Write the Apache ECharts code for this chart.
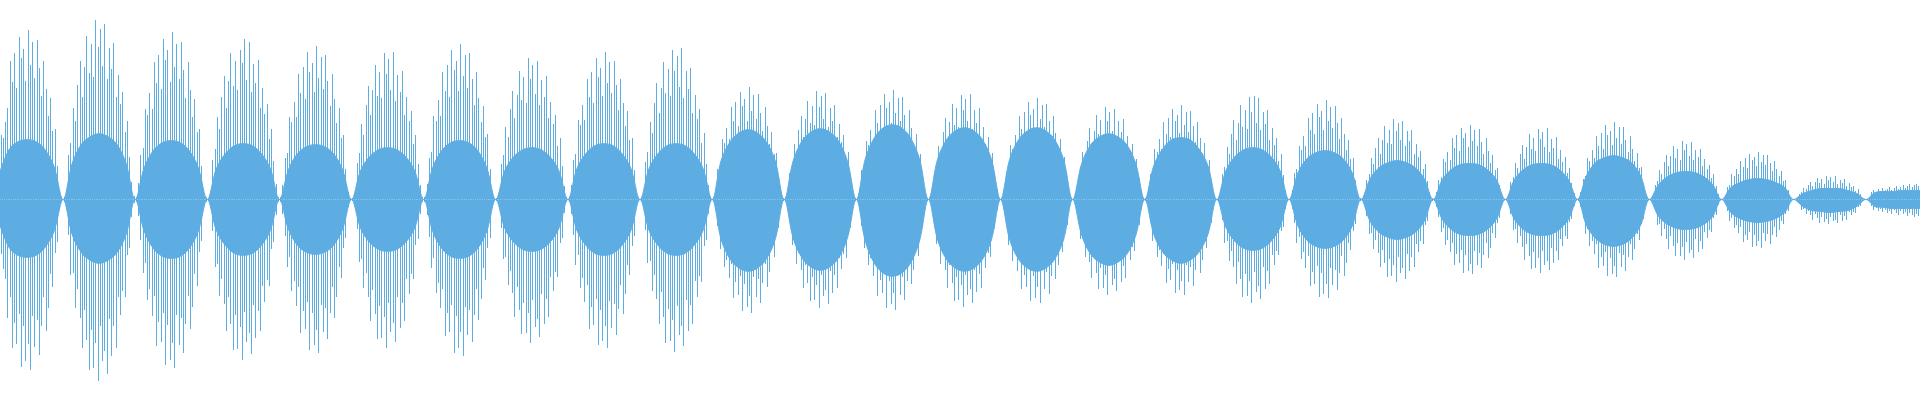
<!DOCTYPE html>
<html>
<head>
<meta charset="utf-8">
<script src="https://cdn.jsdelivr.net/npm/echarts@6/dist/echarts.min.js"></script>
<style>html,body{margin:0;padding:0;background:#fff}#chart{width:1920px;height:400px}</style>
</head>
<body>
<div id="chart"></div>
<script>
// Peak sample heights above the centre line, one inner array per lobe of the wave
const spikeUp = [
 [65,62,78,92,139,118,147,112,163,142,151,119,170,135,158,122,160,132,104,139,111,84,102,69,71,34,9,3],
 [3,9,45,57,92,79,115,139,103,133,164,127,156,123,180,153,171,134,176,121,152,131,157,103,125,96,108,68,79,43,18,4],
 [3,17,45,52,91,85,107,91,138,117,145,111,161,140,150,118,168,133,156,121,158,130,102,138,110,83,101,68,71,34,8,3],
 [2,8,40,51,83,71,103,124,92,119,147,114,139,110,150,137,161,120,158,108,136,117,140,92,112,86,96,61,71,39,16,3],
 [3,15,42,47,83,78,98,83,126,107,133,101,148,128,137,108,154,122,143,111,145,119,94,126,101,77,92,62,65,31,8,2],
 [2,7,37,47,76,65,95,114,85,110,135,104,128,102,147,126,141,110,148,99,125,108,129,85,103,79,89,56,65,36,15,3],
 [3,16,42,48,84,79,100,84,128,109,135,103,150,130,139,109,156,124,145,112,147,121,95,128,102,78,94,63,66,31,8,2],
 [2,7,36,45,73,63,91,109,82,105,129,100,123,97,142,121,135,106,139,95,120,103,124,82,98,76,85,54,62,34,14,3],
 [3,15,40,46,80,75,95,80,121,103,128,97,142,123,132,104,148,117,138,107,139,115,90,121,97,74,89,60,62,30,7,2],
 [2,8,38,48,78,67,97,117,87,112,138,107,131,104,150,129,144,113,152,102,129,111,132,87,105,81,91,57,67,36,15,3],
 [2,11,31,35,61,57,72,61,93,79,98,74,108,94,101,79,113,89,105,81,106,87,69,93,74,56,68,46,47,23,6,2],
 [2,5,27,34,56,48,70,84,63,81,99,77,94,75,109,93,104,81,107,73,92,79,95,63,76,58,65,41,48,26,11,2],
 [2,11,30,34,59,55,70,59,90,77,95,72,106,92,98,77,110,87,102,79,103,85,67,90,72,55,66,45,46,22,6,2],
 [2,5,27,33,54,47,68,82,61,78,96,75,92,73,105,90,101,79,106,71,90,77,92,61,73,56,63,40,47,25,11,2],
 [2,10,28,31,55,51,65,55,84,71,88,67,98,85,91,71,102,81,95,73,96,79,62,84,67,51,61,41,43,20,5,2],
 [1,5,23,29,48,41,59,72,53,69,85,66,80,64,93,79,88,69,91,62,79,68,81,53,64,50,56,35,41,22,9,2],
 [2,10,26,29,51,48,61,51,78,66,82,63,91,79,85,67,95,75,88,68,89,74,58,78,62,47,57,38,40,19,5,1],
 [2,5,26,33,53,46,66,80,60,77,95,73,90,71,103,88,104,77,102,70,88,76,90,60,72,55,62,39,46,25,10,2],
 [2,10,27,31,54,50,64,54,82,70,87,66,96,83,89,70,100,79,93,72,94,77,61,82,66,50,60,41,42,20,5,2],
 [1,4,20,26,42,36,52,62,46,60,74,57,70,56,81,69,77,60,79,54,69,59,70,46,56,43,49,31,36,19,8,2],
 [2,8,20,23,41,38,48,40,62,52,65,49,72,62,67,53,75,59,70,54,71,58,46,62,49,37,45,30,32,15,4,1],
 [1,4,18,23,37,32,46,55,41,53,66,51,62,49,71,61,68,53,72,48,61,52,63,41,50,38,43,27,32,17,7,1],
 [2,8,21,24,42,39,50,42,64,54,67,51,75,65,69,55,78,62,73,56,73,60,48,64,51,39,47,32,33,16,4,1],
 [1,3,15,19,30,26,38,45,34,44,54,42,51,40,59,50,56,44,58,40,50,43,51,34,41,31,35,22,26,14,6,1],
 [1,5,13,15,26,24,31,26,39,33,42,32,46,40,43,34,48,38,45,35,45,37,29,39,31,24,29,19,20,10,2,1],
 [1,1,6,8,12,11,15,18,14,18,22,17,21,16,24,20,23,18,24,16,20,17,21,14,17,13,14,9,11,6,2,1],
 [1,2,8,10,8,11,9,12,10,11,13,10,12,14,11,13,15,12,14,16,13,15,16,14]
];
// Peak sample depths below the centre line, one inner array per lobe
const spikeDown = [
 [-55,-70,-80,-119,-98,-149,-124,-145,-115,-168,-127,-162,-145,-171,-117,-148,-121,-156,-127,-98,-132,-109,-75,-88,-54,-43,-9,-3],
 [-3,-9,-36,-76,-74,-109,-90,-119,-149,-111,-141,-171,-131,-169,-144,-182,-127,-162,-152,-175,-120,-157,-127,-149,-98,-116,-92,-98,-56,-49,-18,-4],
 [-3,-17,-41,-74,-64,-101,-90,-117,-97,-147,-123,-143,-114,-166,-126,-161,-144,-169,-116,-146,-119,-154,-125,-97,-130,-108,-75,-87,-53,-42,-8,-3],
 [-2,-8,-32,-68,-65,-97,-80,-105,-132,-98,-125,-151,-116,-150,-128,-161,-113,-143,-134,-155,-106,-139,-112,-132,-87,-103,-81,-87,-50,-43,-16,-3],
 [-3,-15,-37,-68,-58,-92,-82,-107,-88,-134,-112,-130,-103,-151,-114,-146,-131,-154,-106,-133,-109,-140,-114,-88,-119,-98,-68,-79,-49,-39,-8,-2],
 [-2,-7,-30,-63,-60,-89,-74,-98,-122,-91,-115,-140,-107,-139,-118,-149,-104,-133,-124,-143,-98,-129,-104,-122,-80,-95,-75,-80,-46,-40,-15,-3],
 [-3,-16,-38,-69,-59,-94,-84,-109,-90,-137,-114,-133,-106,-154,-117,-149,-133,-157,-108,-136,-111,-143,-116,-90,-121,-100,-69,-81,-49,-39,-8,-2],
 [-2,-7,-29,-60,-58,-86,-72,-94,-118,-88,-111,-135,-104,-134,-114,-144,-101,-128,-120,-138,-95,-125,-100,-118,-78,-92,-73,-78,-44,-39,-14,-3],
 [-3,-15,-36,-66,-56,-89,-79,-103,-86,-130,-108,-126,-100,-146,-111,-142,-127,-149,-102,-129,-105,-136,-110,-86,-115,-95,-66,-76,-47,-37,-7,-2],
 [-2,-8,-31,-64,-62,-92,-76,-100,-125,-93,-118,-144,-110,-142,-121,-153,-107,-136,-127,-147,-101,-132,-106,-125,-82,-98,-77,-83,-47,-41,-15,-3],
 [-2,-11,-27,-50,-43,-68,-61,-79,-65,-99,-83,-96,-77,-112,-85,-108,-97,-114,-78,-98,-80,-104,-84,-65,-88,-73,-50,-58,-36,-29,-6,-2],
 [-2,-5,-22,-46,-44,-65,-54,-71,-89,-66,-84,-102,-78,-101,-86,-109,-76,-97,-91,-105,-72,-94,-76,-89,-59,-70,-55,-59,-34,-29,-11,-2],
 [-2,-11,-27,-49,-42,-66,-59,-77,-64,-97,-81,-94,-75,-109,-82,-105,-94,-111,-76,-96,-78,-101,-82,-64,-85,-71,-49,-57,-35,-28,-6,-2],
 [-2,-5,-22,-45,-44,-65,-54,-71,-89,-66,-84,-102,-78,-101,-86,-108,-76,-96,-90,-104,-71,-93,-75,-89,-58,-69,-54,-58,-33,-29,-11,-2],
 [-2,-10,-25,-46,-39,-62,-55,-72,-60,-90,-76,-88,-70,-102,-77,-99,-88,-104,-71,-90,-73,-95,-77,-60,-80,-66,-46,-53,-33,-26,-5,-2],
 [-1,-5,-19,-40,-39,-58,-48,-63,-79,-58,-74,-90,-69,-89,-76,-96,-67,-86,-80,-92,-63,-83,-67,-79,-52,-61,-48,-52,-30,-26,-10,-2],
 [-2,-10,-23,-42,-36,-58,-51,-67,-55,-84,-70,-81,-65,-94,-71,-91,-82,-96,-66,-83,-68,-87,-71,-55,-74,-61,-42,-49,-30,-24,-5,-1],
 [-2,-5,-21,-44,-42,-62,-52,-68,-85,-63,-80,-98,-75,-97,-82,-104,-73,-93,-87,-100,-68,-90,-72,-85,-56,-66,-52,-56,-32,-28,-10,-2],
 [-2,-10,-24,-44,-38,-60,-53,-69,-57,-87,-73,-85,-67,-98,-74,-95,-85,-99,-69,-86,-71,-91,-74,-57,-77,-64,-44,-51,-32,-25,-5,-2],
 [-1,-4,-17,-35,-34,-50,-41,-54,-68,-51,-64,-78,-60,-77,-66,-83,-58,-74,-69,-80,-55,-72,-58,-68,-45,-53,-42,-45,-26,-22,-8,-2],
 [-2,-8,-18,-33,-29,-46,-41,-53,-44,-66,-55,-64,-51,-74,-56,-72,-65,-75,-52,-66,-54,-69,-56,-44,-59,-49,-34,-39,-24,-19,-4,-1],
 [-1,-4,-15,-31,-30,-44,-37,-48,-61,-45,-57,-70,-53,-69,-59,-74,-52,-66,-62,-71,-49,-64,-52,-61,-40,-47,-37,-40,-23,-20,-7,-1],
 [-2,-8,-19,-35,-30,-47,-42,-55,-45,-69,-58,-67,-53,-77,-59,-75,-67,-78,-54,-68,-56,-72,-58,-45,-61,-50,-35,-41,-25,-20,-4,-1],
 [-1,-3,-12,-26,-25,-37,-30,-40,-50,-37,-47,-57,-44,-57,-48,-61,-43,-54,-51,-59,-40,-53,-42,-50,-33,-39,-31,-33,-19,-16,-6,-1],
 [-1,-5,-12,-22,-19,-29,-26,-34,-28,-43,-36,-41,-33,-48,-36,-47,-42,-49,-34,-42,-35,-45,-36,-28,-38,-31,-22,-25,-15,-12,-2,-1],
 [-1,-1,-5,-11,-10,-15,-12,-16,-21,-15,-19,-24,-18,-23,-20,-25,-18,-22,-21,-24,-16,-22,-17,-21,-13,-16,-13,-14,-8,-7,-2,-1],
 [-1,-2,-7,-11,-9,-12,-10,-13,-11,-14,-12,-15,-11,-14,-16,-12,-15,-13,-17,-14,-16,-18,-15,-17]
];
// Solid inner body of each lobe (upper and lower edge), sampled every 4 samples
const bodyUp = [
 [28,50,58,60,58,50,33],
 [0,36,55,63,66,63,55,36],[0,32,49,57,59,57,49,32],[0,31,46,54,56,54,46,31],[0,30,46,53,55,53,46,30],
 [0,29,43,50,52,50,43,29],[0,32,49,57,59,57,49,32],[0,29,43,50,52,50,43,29],[0,31,46,54,56,54,46,31],
 [0,31,46,54,56,54,46,31],[0,39,58,67,70,67,58,39],[0,39,59,68,71,68,59,39],[0,41,62,72,75,72,62,41],
 [0,40,60,69,72,69,60,40],[0,40,60,69,72,69,60,40],[0,36,55,63,66,63,55,36],[0,34,51,60,62,60,51,34],
 [0,29,43,50,52,50,43,29],[0,27,41,47,49,47,41,27],[0,21,32,37,39,37,32,21],[0,20,30,35,36,35,30,20],
 [0,20,30,35,36,35,30,20],[0,24,37,42,44,42,37,24],[0,15,23,27,28,27,23,15],[0,12,17,20,21,20,17,12],
 [0,6,9,11,11,11,9,6],
 [0,7,8,8,9,9,9]
];
const bodyDown = [
 [-26,-48,-56,-58,-56,-48,-32],
 [0,-35,-53,-61,-64,-61,-53,-35],[0,-32,-49,-57,-59,-57,-49,-32],[0,-31,-46,-54,-56,-54,-46,-31],[0,-30,-46,-53,-55,-53,-46,-30],
 [0,-29,-43,-50,-52,-50,-43,-29],[0,-32,-49,-57,-59,-57,-49,-32],[0,-29,-43,-50,-52,-50,-43,-29],[0,-31,-46,-54,-56,-54,-46,-31],
 [0,-31,-46,-54,-56,-54,-46,-31],[0,-40,-60,-69,-72,-69,-60,-40],[0,-39,-59,-68,-71,-68,-59,-39],[0,-42,-64,-74,-77,-74,-64,-42],
 [0,-40,-60,-69,-72,-69,-60,-40],[0,-40,-60,-69,-72,-69,-60,-40],[0,-36,-55,-63,-66,-63,-55,-36],[0,-35,-53,-61,-64,-61,-53,-35],
 [0,-28,-42,-49,-51,-49,-42,-28],[0,-27,-41,-47,-49,-47,-41,-27],[0,-22,-33,-38,-40,-38,-33,-22],[0,-20,-30,-35,-36,-35,-30,-20],
 [0,-20,-30,-35,-36,-35,-30,-20],[0,-26,-39,-45,-47,-45,-39,-26],[0,-17,-25,-29,-30,-29,-25,-17],[0,-13,-19,-22,-23,-22,-19,-13],
 [0,-7,-11,-12,-13,-12,-11,-7],
 [0,-7,-8,-9,-9,-9,-9]
];

const COLOR = '#5DADE2';
const up = spikeUp.flat();
const down = spikeDown.flat();
const bUp = bodyUp.flat();
const bDown = bodyDown.flat();
const sampleCats = up.map((_, i) => i);
const bodyCats = bUp.map((_, i) => i);
const spikeData = up.map((u, i) => [i, u, down[i]]);

const chart = echarts.init(document.getElementById('chart'), null, {renderer: 'canvas'});
chart.setOption({
  animation: false,
  backgroundColor: '#ffffff',
  grid: {left: 0, right: 0, top: 0, bottom: 1, containLabel: false},
  xAxis: [
    {type: 'category', data: sampleCats, show: false, boundaryGap: true},
    {type: 'category', data: bodyCats, show: false, boundaryGap: false}
  ],
  yAxis: {type: 'value', min: -200, max: 200, show: false},
  series: [
    {
      type: 'line', xAxisIndex: 1, data: bUp, smooth: 0.35, showSymbol: false,
      lineStyle: {color: COLOR, width: 1}, areaStyle: {color: COLOR, opacity: 1}, silent: true
    },
    {
      type: 'line', xAxisIndex: 1, data: bDown, smooth: 0.35, showSymbol: false,
      lineStyle: {color: COLOR, width: 1}, areaStyle: {color: COLOR, opacity: 1}, silent: true
    },
    {
      type: 'custom', xAxisIndex: 0, data: spikeData, silent: true,
      encode: {x: 0, y: [1, 2]},
      renderItem: function (params, api) {
        const i = api.value(0);
        const top = api.coord([i, api.value(1)]);
        const bot = api.coord([i, api.value(2)]);
        const x = Math.round(top[0] - 0.5);
        const y1 = Math.round(top[1]);
        const y2 = Math.round(bot[1]);
        return {
          type: 'rect',
          shape: {x: x, y: y1, width: 1, height: Math.max(1, y2 - y1)},
          style: {fill: COLOR}
        };
      }
    }
  ]
});
</script>
</body>
</html>
